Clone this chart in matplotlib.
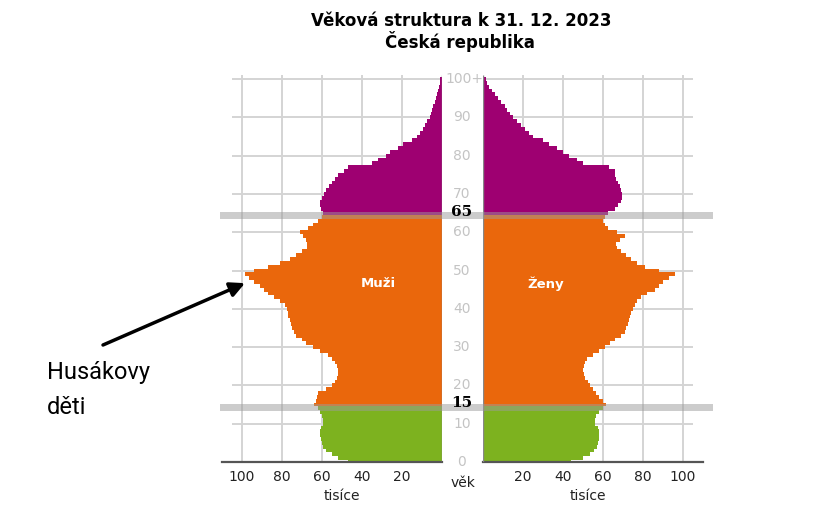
import matplotlib.pyplot as plt
import matplotlib.transforms as mtransforms
import numpy as np

# age structure of the Czech Republic, 31 Dec 2023 (thousands)
ages = np.arange(0, 101)
men = [
    47, 52, 55, 58, 59.5, 60, 60.5, 61, 61, 60.5,
    59.5, 59.5, 60, 61, 62, 64, 63, 62.5, 62, 58,
    55, 53.5, 52.5, 52, 52, 52.5, 53.5, 55, 57, 61,
    64.5, 68, 70, 73, 74, 75, 75.5, 76, 77, 77,
    77.5, 78.5, 81, 84, 87, 89, 91, 94, 96.5, 98.5,
    94, 87, 81, 76, 73, 70, 67.5, 67.5, 68, 69.5,
    71, 67, 64.5, 62, 60, 59.5, 60.5, 61, 61, 60,
    59, 58, 56.5, 55, 53.5, 52, 49, 47, 35, 32,
    28, 26, 22, 19.5, 15, 12.5, 11, 9.5, 8.5, 7.5,
    6, 5.5, 5, 4.5, 3.5, 3, 2.5, 2, 1.5, 1,
    1,
]
women = [
    44, 50, 53.5, 55.5, 57, 57.5, 58, 58, 58, 57.5,
    56, 56, 56.5, 58, 60, 61.5, 60, 58, 56.5, 55,
    53.5, 52.5, 51, 50.5, 50, 50.5, 51, 52, 55, 58,
    61, 63.5, 66, 69, 71, 71.5, 72.5, 73, 73.5, 74,
    75, 76, 77, 79, 82, 86, 88, 90, 93, 96,
    88, 81, 77, 74, 71.5, 69, 67, 66.5, 68.5, 71,
    67, 62.5, 61, 60, 61, 62.5, 66, 67.5, 69, 69.5,
    69.5, 69, 68.5, 67.5, 66.5, 66, 66, 63, 50, 47,
    43, 40, 37, 33, 30, 25, 23, 21, 19, 17,
    15, 13.5, 12, 11, 9, 7.5, 6, 4.5, 3, 2,
    1.5,
]
age_ticks = [0, 10, 20, 30, 40, 50, 60, 70, 80, 90]
group_limits = [15, 65]
x_ticks = [20, 40, 60, 80, 100]

COL_KIDS = "#7db21f"
COL_WORK = "#ea670c"
COL_OLD = "#9e0071"
GRID = "#d4d4d4"
BAND = "#9b9b9b"


def group_color(a):
    if a < group_limits[0]:
        return COL_KIDS
    if a < group_limits[1]:
        return COL_WORK
    return COL_OLD


cols = [group_color(a) for a in ages]

W, H = 816, 514
fig = plt.figure(figsize=(W / 100, H / 100), dpi=100)


def fx(px):
    return px / W


def fy(px):
    return 1 - px / H


y_bot, y_top = 462, 75.2
ax_l = fig.add_axes([fx(222), fy(y_bot), fx(442) - fx(222), fy(y_top) - fy(y_bot)])
ax_r = fig.add_axes([fx(483), fy(y_bot), fx(703) - fx(483), fy(y_top) - fy(y_bot)])

for ax, vals, side in [(ax_l, men, "l"), (ax_r, women, "r")]:
    ax.hlines(range(10, 101, 10), 0, 105, color=GRID, lw=1.4, zorder=0)
    ax.vlines(x_ticks, 0, 101, color=GRID, lw=1.4, zorder=0)
    ax.barh(ages, vals, height=1.0, color=cols, linewidth=0, zorder=2)
    ax.axhline(0, color="#555555", lw=1.6, clip_on=False, zorder=3)
    ax.vlines(0, 0, 101, color="#888888", lw=1.0, zorder=3)
    ax.set_ylim(0, 101)
    if side == "l":
        ax.set_xlim(110, 0)
    else:
        ax.set_xlim(0, 110)
    for s in ax.spines.values():
        s.set_visible(False)
    ax.set_yticks([])
    ax.set_xticks(x_ticks)
    ax.tick_params(axis="x", length=0, pad=6, labelsize=10, labelcolor="#222222")
    ax.patch.set_alpha(0)

# translucent grey bands at the group borders (left half + gap, right half)
for a in group_limits:
    ax_l.axhspan(a - 1.65, a + 0.15, xmin=-0.009, xmax=1.186, facecolor=BAND, alpha=0.5,
                 edgecolor="none", zorder=5, clip_on=False)
    ax_r.axhspan(a - 1.65, a + 0.15, xmin=0, xmax=1.045, facecolor=BAND, alpha=0.5,
                 edgecolor="none", zorder=5, clip_on=False)

# "tisíce" under each half
t_l = mtransforms.blended_transform_factory(ax_l.transData, fig.transFigure)
t_r = mtransforms.blended_transform_factory(ax_r.transData, fig.transFigure)
ax_l.text(50, fy(496), "tisíce", transform=t_l, ha="center", va="center", fontsize=10, color="#222222")
ax_r.text(52.5, fy(496), "tisíce", transform=t_r, ha="center", va="center", fontsize=10, color="#222222")
fig.text(fx(463), fy(483), "věk", ha="center", va="center", fontsize=10, color="#222222")

# age labels in the middle gap
t_mid = mtransforms.blended_transform_factory(fig.transFigure, ax_l.transData)
for a in age_ticks:
    ax_l.text(fx(462), a, str(a), transform=t_mid, ha="center", va="center",
              fontsize=10, color="#c4c4c4", clip_on=False)
ax_l.text(fx(464), 100, "100+", transform=t_mid, ha="center", va="center",
          fontsize=10, color="#c4c4c4", clip_on=False)
for a in group_limits:
    ax_l.text(fx(462), a + 0.3, str(a), transform=t_mid, ha="center", va="center",
              fontsize=11, fontweight="bold", family="DejaVu Serif", color="black",
              clip_on=False, zorder=7)

ax_l.text(32, 46.5, "Muži", ha="center", va="center", color="white", fontsize=9.5, fontweight="bold", zorder=6)
ax_r.text(31.5, 46.5, "Ženy", ha="center", va="center", color="white", fontsize=9.5, fontweight="bold", zorder=6)

fig.suptitle("Věková struktura k 31. 12. 2023", x=fx(461), y=fy(21), fontsize=12, fontweight="bold", va="center")
fig.text(fx(460), fy(42), "Česká republika", ha="center", va="center", fontsize=12, fontweight="bold")

# annotation for the 1970s baby boom
fig.text(fx(47), fy(372), "Husákovy", ha="left", va="center", fontsize=17, family="Roboto")
fig.text(fx(47), fy(408), "děti", ha="left", va="center", fontsize=17, family="Roboto")
ax_l.annotate("", xy=(98.5, 46.7), xycoords="data", xytext=(103, H - 345), textcoords="figure pixels",
              arrowprops=dict(arrowstyle="-|>", lw=2.5, color="black", mutation_scale=22,
                              shrinkA=0, shrinkB=0))

fig.savefig("out.png", dpi=100)
